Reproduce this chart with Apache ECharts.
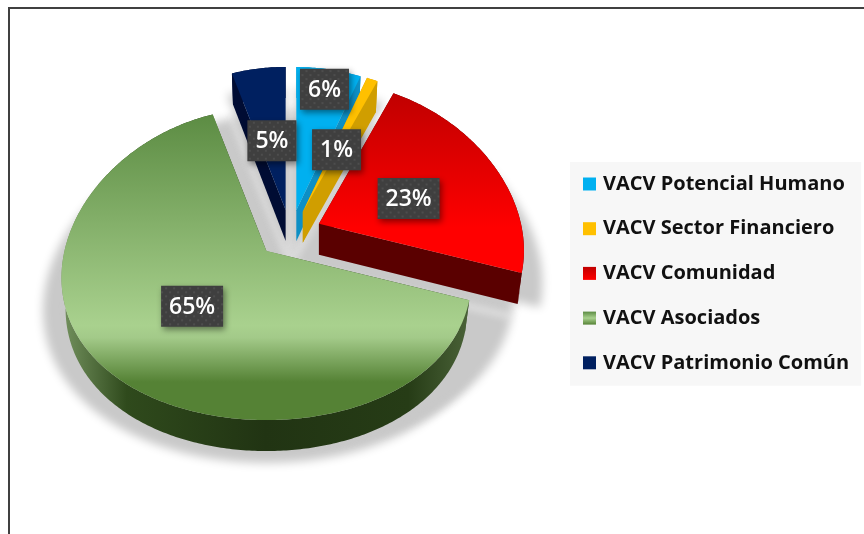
<!DOCTYPE html>
<html>
<head>
<meta charset="utf-8">
<style>
  html, body { margin: 0; padding: 0; background: #fff; }
  #chart { width: 864px; height: 534px; }
</style>
<script src="https://cdn.jsdelivr.net/npm/echarts@6/dist/echarts.min.js"></script>
</head>
<body>
<div id="chart"></div>
<script>
const categories = ['VACV Potencial Humano', 'VACV Sector Financiero', 'VACV Comunidad', 'VACV Asociados', 'VACV Patrimonio Común'];
const values = [6, 1, 23, 65, 5];

const CENTER = [290.5, 233];
const RX = 202, RY = 155, KX = 0.17, KY = 0.083; // slight perspective of the disc
const DEPTH = 31;
const explode = [31, 31, 31, 34, 31];
const labelRadius = [0.85, 0.45, 0.5, 0.49, 0.47];
const labelShiftY = [0, 0, 5, 0, 0];

const vgrad = (stops) => ({
  type: 'linear', x: 0, y: 0, x2: 0, y2: 1,
  colorStops: stops.map(([offset, color]) => ({ offset, color }))
});
const hgrad = (stops) => ({
  type: 'linear', x: 0, y: 0, x2: 1, y2: 0,
  colorStops: stops.map(([offset, color]) => ({ offset, color }))
});

const topColors = [
  '#00b0f0',
  '#ffc000',
  vgrad([[0, '#c00000'], [0.75, '#ff0000'], [1, '#ff0000']]),
  vgrad([[0, '#5c8c43'], [0.69, '#a9d18e'], [0.73, '#a3ca89'], [0.875, '#558235'], [1, '#558235']]),
  '#002060'
];
const sideColors = [
  '#0d8fc5',
  '#d09e00',
  '#5a0000',
  hgrad([[0, '#74925f'], [0.16, '#2f4a1c'], [0.5, '#213413'], [0.85, '#263c16'], [1, '#4a6238']]),
  '#000c33'
];
const legendIcons = [
  '#00b0f0',
  '#ffc000',
  vgrad([[0, '#c00000'], [1, '#ff0000']]),
  vgrad([[0, '#5c8c43'], [0.5, '#a9d18e'], [1, '#558235']]),
  '#002060'
];

const total = values.reduce((a, b) => a + b, 0);
const startValues = values.map((_, i) => values.slice(0, i).reduce((a, b) => a + b, 0));

function apexOf(i) {
  const mid = (startValues[i] + values[i] / 2) / total * 2 * Math.PI;
  return [CENTER[0] + explode[i] * Math.sin(mid), CENTER[1] - explode[i] * 0.75 * Math.cos(mid)];
}

function onDisc(apex, frac, rad) {
  const u = Math.sin(rad) * frac, v = -Math.cos(rad) * frac;
  return [apex[0] + RX * u / (1 - KX * v), apex[1] + RY * v / (1 - KY * v)];
}

function arcPoints(apex, a0, a1) {
  const n = Math.ceil(Math.abs(a1 - a0) / 0.012);
  const pts = [];
  for (let k = 0; k <= n; k++) pts.push(onDisc(apex, 1, a0 + (a1 - a0) * k / n));
  return pts;
}

// lower face: same outline pushed down, a bit narrower
function lower(apex, p, sx, sy) {
  return [apex[0] + (p[0] - apex[0]) * sx, apex[1] + DEPTH + (p[1] - apex[1]) * sy];
}

function angles(start, value) {
  return [start / total * 2 * Math.PI, (start + value) / total * 2 * Math.PI];
}

function renderSlice(i, api) {
  const [a0, a1] = angles(api.value(1), api.value(0));
  const apex = apexOf(i);
  const arc = arcPoints(apex, a0, a1);
  const low = arc.map((p) => lower(apex, p, 0.98, 1));
  const lowApex = lower(apex, apex, 1, 1);
  const side = { fill: sideColors[i] };
  const quad = (p, q) => ({ type: 'polygon', shape: { points: [apex, p, q, lowApex] }, style: side });
  return {
    type: 'group',
    children: [
      quad(arc[0], low[0]),
      quad(arc[arc.length - 1], low[low.length - 1]),
      { type: 'polygon', shape: { points: arc.concat(low.slice().reverse()) }, style: side },
      { type: 'polygon', shape: { points: [apex].concat(arc) }, style: { fill: topColors[i] } }
    ]
  };
}

// soft shadow: the lower face widened, drawn off canvas so only its blur lands on the page.
// the second polygon is the same slice not pulled out, it fills the gaps between slices
function renderShadow(params, api) {
  const i = params.dataIndex;
  const [a0, a1] = angles(api.value(1), api.value(0));
  const shape = (apex) => [apex].concat(arcPoints(apex, a0, a1)).map((p) => lower(apex, p, 1.09, 1.07));
  const style = { fill: '#c9c9c9', shadowColor: '#c9c9c9', shadowBlur: 10, shadowOffsetX: 2000 };
  return {
    type: 'group',
    x: -2000,
    children: [
      { type: 'polygon', shape: { points: shape(apexOf(i)) }, style },
      { type: 'polygon', shape: { points: shape(CENTER) }, style }
    ]
  };
}

const dots = document.createElement('canvas');
dots.width = dots.height = 8;
(function () {
  const c = dots.getContext('2d');
  c.fillStyle = '#3f3f3f';
  c.fillRect(0, 0, 8, 8);
  c.fillStyle = '#4d4d4d';
  c.fillRect(1, 1, 2, 2);
  c.fillRect(5, 5, 2, 2);
})();

function renderLabel(params, api) {
  const i = params.dataIndex;
  const [a0, a1] = angles(api.value(1), api.value(0));
  const p = onDisc(apexOf(i), labelRadius[i], (a0 + a1) / 2);
  const text = api.value(0) + '%';
  const w = text.length > 2 ? 62 : 49, h = 41;
  return {
    type: 'group',
    x: p[0], y: p[1] + labelShiftY[i],
    children: [
      {
        type: 'rect',
        shape: { x: -w / 2, y: -h / 2, width: w, height: h },
        style: {
          fill: { image: dots, repeat: 'repeat' },
          shadowColor: 'rgba(0,0,0,0.45)', shadowBlur: 6, shadowOffsetX: 2, shadowOffsetY: 3
        }
      },
      {
        type: 'text',
        style: {
          text, x: 0, y: 1, fill: '#fff', align: 'center', verticalAlign: 'middle',
          font: '600 23px "Open Sans"'
        }
      }
    ]
  };
}

const dataRows = values.map((v, i) => [v, startValues[i]]);

const chart = echarts.init(document.getElementById('chart'), null, { renderer: 'canvas' });
chart.setOption({
  animation: false,
  backgroundColor: '#fff',
  graphic: [{
    type: 'rect', z: 0, silent: true,
    shape: { x: 9, y: 8, width: 900, height: 600 },
    style: { fill: 'none', stroke: '#404040', lineWidth: 2 }
  }],
  legend: {
    left: 570, top: 162,
    orient: 'vertical',
    selectedMode: false,
    backgroundColor: '#f7f7f7',
    padding: [12, 12, 13, 13],
    itemWidth: 13, itemHeight: 13, itemGap: 24.7,
    icon: 'rect',
    textStyle: { color: '#111', fontFamily: 'Open Sans', fontWeight: 700, fontSize: 20, lineHeight: 20, padding: [0, 0, 0, 2] },
    data: categories.map((name, i) => ({ name, itemStyle: { color: legendIcons[i] } }))
  },
  series: [
    { type: 'custom', name: 'sombra', coordinateSystem: 'none', silent: true, z: 1, data: dataRows, renderItem: renderShadow }
  ].concat(categories.map((name, i) => ({
    type: 'custom',
    name,
    coordinateSystem: 'none',
    silent: true,
    z: 2,
    itemStyle: { color: legendIcons[i] },
    data: [dataRows[i]],
    renderItem: (params, api) => renderSlice(i, api)
  }))).concat([
    { type: 'custom', name: 'etiquetas', coordinateSystem: 'none', silent: true, z: 3, data: dataRows, renderItem: renderLabel }
  ])
});
</script>
</body>
</html>
